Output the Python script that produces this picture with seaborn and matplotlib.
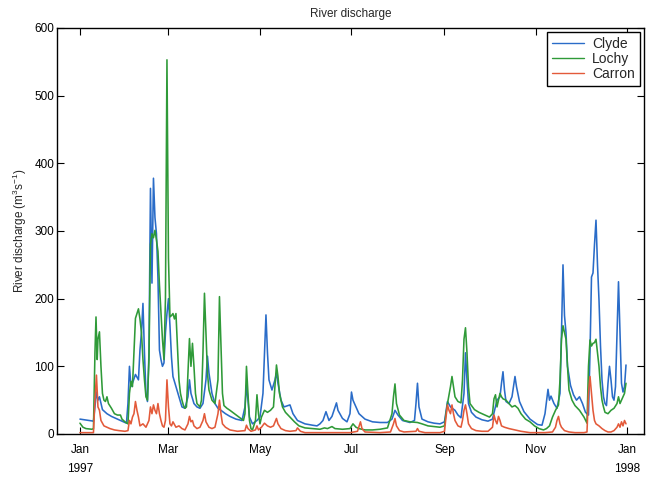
import pandas as pd
import matplotlib
matplotlib.use("Agg")
import matplotlib.pyplot as plt
import seaborn as sns

# daily discharge 1997 as (day of year, m3/s)
clyde = [(0, 22), (3, 21), (6, 20), (9, 19), (10, 40), (11, 62), (12, 50), (13, 55), (15, 36), (18, 30),
         (21, 26), (25, 22), (28, 19), (31, 16), (32, 45), (33, 100), (34, 70), (35, 75), (37, 88), (39, 80),
         (40, 124), (41, 150), (42, 193), (43, 120), (44, 60), (45, 48), (46, 120), (47, 363), (48, 223),
         (49, 378), (50, 320), (51, 296), (52, 230), (53, 124), (54, 110), (55, 100), (56, 105), (57, 150),
         (58, 178), (59, 200), (60, 160), (61, 114), (62, 85), (64, 70), (66, 55), (68, 40), (70, 38), (72, 55),
         (73, 80), (74, 60), (76, 45), (78, 40), (80, 38), (82, 45), (84, 80), (85, 115), (86, 90), (88, 60),
         (90, 45), (92, 38), (94, 35), (97, 30), (100, 26), (104, 22), (108, 20), (110, 40), (111, 72),
         (112, 50), (113, 25), (115, 15), (118, 20), (120, 25), (122, 60), (124, 176), (125, 120), (126, 80),
         (128, 65), (130, 80), (131, 90), (132, 75), (134, 50), (136, 40), (140, 43), (142, 30), (145, 20),
         (150, 15), (155, 13), (158, 12), (160, 15), (162, 20), (164, 33), (166, 20), (168, 26), (171, 46),
         (172, 35), (175, 23), (178, 18), (180, 30), (181, 62), (182, 50), (184, 40), (186, 30), (190, 22),
         (195, 18), (200, 17), (205, 17), (208, 22), (210, 35), (212, 28), (215, 20), (220, 17), (223, 20),
         (224, 45), (225, 75), (226, 40), (228, 22), (232, 18), (236, 16), (240, 15), (243, 18), (245, 48),
         (247, 40), (250, 35), (252, 28), (254, 24), (256, 60), (257, 120), (258, 80), (259, 45), (261, 32),
         (264, 25), (268, 21), (272, 19), (275, 22), (278, 50), (280, 55), (281, 75), (282, 92), (283, 65),
         (284, 48), (286, 45), (288, 55), (290, 85), (291, 70), (293, 48), (296, 33), (300, 22), (305, 14),
         (308, 13), (310, 30), (312, 66), (313, 50), (314, 56), (316, 45), (318, 38), (320, 60), (321, 150),
         (322, 250), (323, 175), (324, 150), (325, 100), (327, 72), (329, 58), (331, 50), (333, 55), (335, 45),
         (337, 32), (339, 28), (340, 120), (341, 232), (342, 238), (343, 280), (344, 316), (345, 250),
         (346, 198), (347, 130), (348, 80), (349, 55), (350, 45), (351, 42), (352, 75), (353, 100), (354, 80),
         (355, 55), (356, 50), (357, 70), (358, 150), (359, 225), (360, 150), (361, 75), (362, 62), (363, 70),
         (364, 102)]

lochy = [(0, 16), (2, 10), (4, 8), (8, 7), (9, 8), (10, 120), (10.7, 173), (11.5, 110), (12, 140), (13, 151),
         (14, 100), (15, 60), (16, 50), (17, 48), (18, 55), (19, 45), (21, 38), (23, 30), (25, 28), (27, 28),
         (28, 22), (30, 18), (32, 15), (33, 60), (34, 78), (35, 70), (36, 120), (37, 171), (38, 178), (39, 185),
         (40, 170), (41, 150), (42, 110), (43, 80), (44, 55), (45, 50), (46, 110), (47, 280), (48, 296),
         (49, 290), (50, 301), (51, 287), (52, 270), (53, 220), (54, 180), (55, 140), (56, 110), (57, 200),
         (58, 553), (59, 260), (60, 173), (61, 175), (62, 178), (63, 170), (64, 178), (65, 130), (66, 80),
         (67, 60), (68, 50), (69, 42), (70, 38), (71, 40), (72, 90), (73, 141), (74, 100), (75, 134), (76, 100),
         (77, 60), (78, 45), (80, 40), (81, 50), (82, 120), (83, 208), (84, 150), (85, 90), (86, 65), (88, 50),
         (90, 45), (92, 80), (93, 203), (94, 130), (95, 60), (96, 42), (98, 38), (100, 35), (103, 30), (106, 25),
         (109, 20), (110, 30), (111, 100), (112, 60), (113, 20), (114, 8), (115, 6), (117, 20), (118, 58),
         (119, 30), (120, 15), (121, 25), (123, 35), (125, 32), (127, 35), (129, 40), (131, 102), (132, 85),
         (133, 60), (135, 40), (137, 32), (140, 25), (143, 18), (146, 12), (150, 9), (155, 8), (160, 7),
         (163, 9), (165, 8), (168, 11), (170, 8), (175, 7), (180, 8), (182, 15), (184, 10), (186, 8), (190, 6),
         (195, 6), (200, 7), (205, 9), (208, 30), (209, 55), (210, 74), (211, 45), (213, 28), (216, 20),
         (220, 18), (225, 17), (228, 15), (232, 12), (236, 11), (240, 10), (243, 12), (244, 30), (245, 45),
         (247, 70), (248, 85), (249, 70), (250, 55), (252, 48), (254, 46), (255, 80), (256, 140), (257, 157),
         (258, 120), (259, 70), (260, 45), (263, 36), (266, 32), (270, 28), (273, 25), (275, 30), (276, 52),
         (277, 58), (278, 40), (279, 50), (280, 60), (281, 55), (282, 52), (284, 50), (286, 45), (288, 40),
         (290, 42), (292, 38), (294, 30), (297, 22), (300, 18), (303, 12), (306, 8), (309, 6), (311, 8),
         (313, 12), (315, 25), (317, 35), (319, 43), (320, 80), (321, 140), (322, 160), (323, 150), (324, 140),
         (325, 100), (326, 65), (328, 50), (330, 42), (333, 35), (336, 25), (338, 16), (339, 100), (340, 139),
         (341, 130), (342, 134), (343, 135), (344, 140), (345, 120), (346, 100), (347, 70), (348, 50),
         (349, 40), (350, 32), (352, 30), (354, 35), (356, 38), (358, 45), (359, 55), (360, 45), (362, 55),
         (363, 60), (364, 75)]

carron = [(0, 2), (5, 2), (9, 2), (10, 50), (11, 87), (12, 40), (13, 35), (14, 20), (16, 12), (18, 10),
          (20, 8), (23, 6), (26, 5), (30, 4), (32, 5), (33, 20), (34, 15), (35, 25), (36, 30), (37, 48),
          (38, 35), (39, 25), (40, 12), (42, 15), (44, 10), (46, 20), (47, 40), (48, 30), (49, 43), (50, 35),
          (51, 30), (52, 45), (53, 30), (54, 20), (55, 12), (56, 10), (57, 20), (58, 80), (59, 40), (60, 15),
          (61, 12), (62, 18), (64, 10), (66, 12), (68, 8), (70, 6), (72, 15), (73, 26), (74, 18), (75, 20),
          (76, 12), (78, 8), (80, 10), (82, 20), (83, 30), (84, 18), (86, 10), (88, 8), (90, 10), (92, 30),
          (93, 50), (94, 30), (95, 15), (97, 10), (100, 6), (105, 4), (110, 5), (111, 13), (112, 8), (114, 4),
          (117, 6), (118, 12), (119, 6), (121, 10), (123, 16), (125, 12), (127, 10), (129, 12), (131, 23),
          (132, 15), (134, 8), (137, 5), (140, 4), (144, 5), (145, 9), (147, 4), (150, 2), (160, 2), (170, 2),
          (180, 2), (185, 4), (187, 18), (188, 8), (190, 3), (200, 2), (207, 3), (209, 15), (210, 23),
          (211, 12), (213, 5), (216, 3), (224, 4), (225, 8), (226, 4), (230, 2), (240, 2), (243, 4), (244, 25),
          (245, 43), (246, 35), (247, 30), (248, 43), (249, 30), (250, 20), (252, 12), (254, 10), (255, 20),
          (256, 35), (257, 43), (258, 30), (259, 15), (261, 8), (264, 5), (268, 4), (272, 4), (275, 10),
          (276, 28), (277, 20), (278, 15), (279, 26), (280, 20), (281, 12), (283, 10), (286, 8), (290, 6),
          (294, 4), (300, 2), (310, 2), (315, 3), (317, 10), (318, 20), (319, 26), (320, 15), (321, 10),
          (323, 5), (326, 3), (330, 2), (336, 2), (338, 3), (339, 60), (340, 85), (341, 60), (342, 35),
          (343, 20), (344, 15), (346, 12), (348, 8), (350, 5), (352, 3), (354, 3), (356, 5), (358, 10),
          (359, 15), (360, 10), (361, 18), (362, 12), (363, 20), (364, 15)]

rivers = ['Clyde', 'Lochy', 'Carron']
colours = {'Clyde': '#2a6cc8', 'Lochy': '#2f9a38', 'Carron': '#e35a3a'}
tick_dates = ['1997-01-01', '1997-03-01', '1997-05-01', '1997-07-01', '1997-09-01', '1997-11-01', '1998-01-01']
tick_labels = ['Jan\n1997', 'Mar', 'May', 'Jul', 'Sep', 'Nov', 'Jan\n1998']

start = pd.Timestamp('1997-01-01')
frames = []
for name, pts in zip(rivers, [clyde, lochy, carron]):
    d = pd.DataFrame(pts, columns=['day', 'discharge'])
    d['date'] = start + pd.to_timedelta(d['day'], unit='D')
    d['river'] = name
    frames.append(d)
df = pd.concat(frames, ignore_index=True)

sns.set_style('ticks')
plt.rcParams['font.family'] = ['Liberation Sans', 'DejaVu Sans']
plt.rcParams['mathtext.fontset'] = 'custom'
plt.rcParams['mathtext.rm'] = 'Liberation Sans'
plt.rcParams['mathtext.it'] = 'Liberation Sans:italic'

fig = plt.figure(figsize=(6.46, 4.79), dpi=100)
ax = fig.add_axes([57 / 646, 1 - 434 / 479, (644 - 57) / 646, (434 - 28) / 479])

sns.lineplot(data=df, x='date', y='discharge', hue='river', hue_order=rivers,
             palette=colours, estimator=None, sort=True, lw=1.15, ax=ax)

ax.set_xlim(start - pd.Timedelta(days=15.3), start + pd.Timedelta(days=376))
ax.set_ylim(0, 600)
ax.set_yticks(range(0, 601, 100))
ax.set_xticks(pd.to_datetime(tick_dates))
ax.set_xticklabels(tick_labels)
for lab in ax.get_xticklabels():
    lab.set_linespacing(1.75)

ax.tick_params(direction='in', length=5, width=0.8, top=True, right=True,
               labelsize=8.5, colors='black')
ax.tick_params(axis='x', pad=7.5)
ax.tick_params(axis='y', pad=2)
for sp in ax.spines.values():
    sp.set_visible(True)
    sp.set_color('black')
    sp.set_linewidth(1.0)

ax.set_xlabel('')
ax.set_ylabel('River discharge (m$^3$s$^{-1}$)', fontsize=8.5, labelpad=4)
ax.set_title('River discharge', fontsize=8.5, pad=8)

handles, labels = ax.get_legend_handles_labels()
leg = ax.legend(handles, labels, loc='upper right', fontsize=10, frameon=True, fancybox=False,
                edgecolor='black', framealpha=1, borderaxespad=0.3, labelspacing=0.08,
                handlelength=2.3, handletextpad=0.6, borderpad=0.35)
leg.get_frame().set_linewidth(1.0)
for h in leg.get_lines():
    h.set_linewidth(1.0)

fig.savefig('out.png', dpi=100)
